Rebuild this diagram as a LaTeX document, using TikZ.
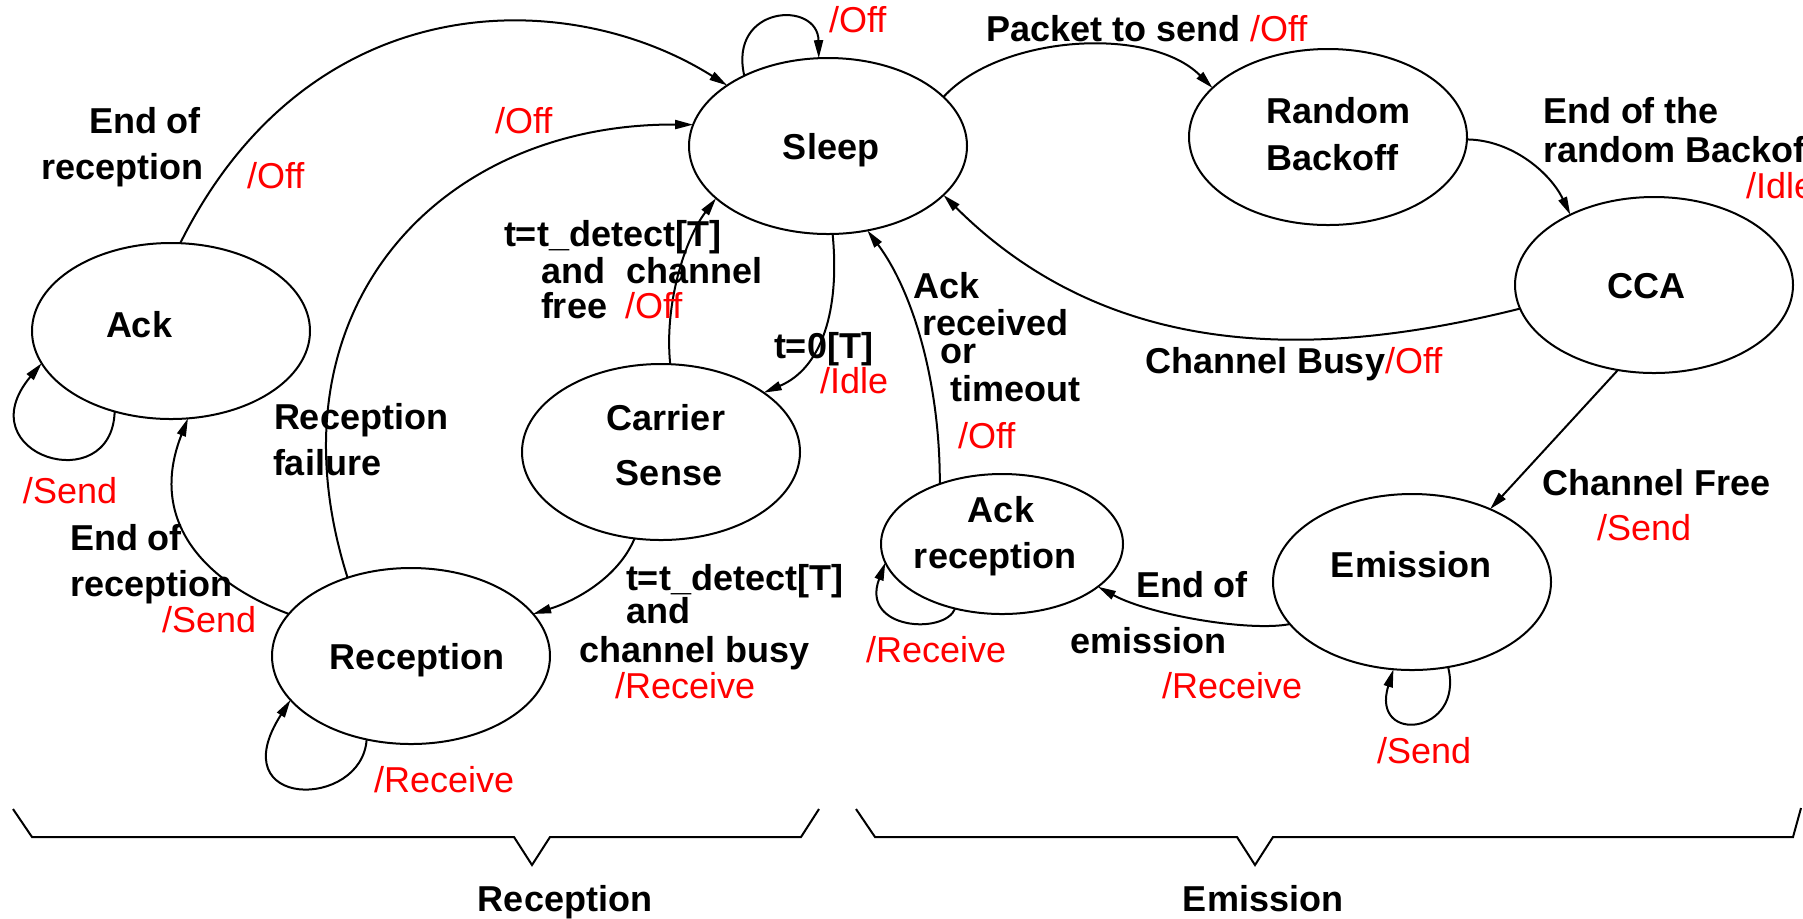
\documentclass[tikz,border=0pt]{standalone}
\usepackage{fontspec}
\setmainfont{Liberation Sans}
\usetikzlibrary{shapes.geometric,arrows.meta}
\begin{document}
\begin{tikzpicture}[x=0.5pt,y=-0.5pt,
  every node/.style={inner sep=0pt, outer sep=0pt},
  state/.style={draw, ellipse, line width=1pt, minimum width=139pt, minimum height=88pt},
  smallstate/.style={state, minimum width=121pt, minimum height=70pt},
  lb/.style={anchor=base west, font=\fontsize{18}{22}\selectfont\bfseries},
  ac/.style={anchor=base west, text=red, font=\fontsize{18}{22}\selectfont},
  ctr/.style={anchor=base, font=\fontsize{18}{22}\selectfont\bfseries},
  edge/.style={draw, line width=1pt, -{Triangle[length=9pt,width=4.5pt]}},
  brace/.style={draw, line width=1pt, line join=miter}
]
\useasboundingbox (0,0) rectangle (1803,918);
\newcommand{\rd}[1]{{\mdseries\color{red}#1}}

% states
\node[state] (sleep) at (828,146) {};
\node[state] (ack) at (171,331) {};
\node[state] (carrier) at (661,452) {};
\node[state] (reception) at (411,656) {};
\node[state] (random) at (1328,137) {};
\node[state] (cca) at (1654,285) {};
\node[smallstate] (ackrec) at (1002,544) {};
\node[state] (emission) at (1412,582) {};

% state texts
\node[ctr] (sleepT) at (831,159) {Sleep};
\node[lb] (ackT) at (106,337) {Ack};
\node[ctr] (carrierT1) at (666,430) {Carrier};
\node[ctr] (carrierT2) at (669,485) {Sense};
\node[ctr] (receptionT) at (417,669) {Reception};
\node[lb] (randomT1) at (1266,123) {Random};
\node[lb] (randomT2) at (1266,170) {Backoff};
\node[ctr] (ccaT) at (1646,298) {CCA};
\node[ctr] (ackrecT1) at (1001,522) {Ack};
\node[ctr] (ackrecT2) at (995,568) {reception};
\node[ctr] (emissionT) at (1411,577) {Emission};

% transitions
\draw[edge] (ack.84) .. controls (310,-17) and (568,-15) .. (sleep.149);
\draw[edge] (reception.129) .. controls (263,311) and (438,123) .. (sleep.171);
\draw[edge] (carrier.84) .. controls (664,304) and (685,239) .. (sleep.205);
\draw[edge] (sleep.273) .. controls (840,310) and (822,368) .. (carrier.30);
\draw[edge] (carrier.253) .. controls (618,578) and (575,601) .. (reception.19);
\draw[edge] (reception.161) .. controls (206,583) and (147,522) .. (ack.281);
\draw[edge] (ack.235) .. controls (112,500) and (-35,455) .. (ack.194);
\draw[edge] (reception.242) .. controls (362,810) and (220,810) .. (reception.200);
\draw[edge] (sleep.140) .. controls (728,5) and (818,0) .. (sleep.96);
\draw[edge] (sleep.23) .. controls (1000,35) and (1150,25) .. (random.157);
\draw[edge] (random.359) .. controls (1513,140) and (1551,174) .. (cca.140);
\draw[edge] (cca.190) .. controls (1338,354) and (1120,371) .. (sleep.337);
\draw[edge] (cca.247) -- (emission.43);
\draw[edge] (emission.199) .. controls (1250,632) and (1150,615) .. (ackrec.336);
\draw[edge] (ackrec.136) .. controls (940,380) and (912,290) .. (sleep.295);
\draw[edge] (ackrec.234) .. controls (945,635) and (860,630) .. (ackrec.189);
\draw[edge] (emission.293) .. controls (1465,735) and (1370,745) .. (emission.258);

% transition labels
\node[lb] (l1a) at (89,133) {End of};
\node[lb] (l1b) at (41,179) {reception};
\node[ac] (l1c) at (247,188) {/Off};
\node[ac] (l2) at (495,133) {/Off};
\node[ac] (l3) at (829,32) {/Off};
\node[lb] (l4a) at (504,246) {t=t\_detect[T]};
\node[lb] (l4b) at (541,283) {and\hspace{10.5pt}channel};
\node[lb] (l4c) at (541,318) {free\hspace{9pt}\rd{/Off}};
\node[lb] (l5a) at (774,358) {t=0[T]};
\node[ac] (l5b) at (820,393) {/Idle};
\node[lb] (l6a) at (274,429) {Reception};
\node[lb] (l6b) at (273,475) {failure};
\node[ac] (l7) at (23,503) {/Send};
\node[lb] (l8a) at (70,550) {End of};
\node[lb] (l8b) at (70,596) {reception};
\node[ac] (l8c) at (162,632) {/Send};
\node[lb] (l9a) at (626,590) {t=t\_detect[T]};
\node[lb] (l9b) at (626,623) {and};
\node[lb] (l9c) at (579,662) {channel busy};
\node[ac] (l9d) at (615,698) {/Receive};
\node[ac] (l10) at (374,792) {/Receive};
\node[lb] (l11) at (986,41) {Packet to send \rd{/Off}};
\node[lb] (l12a) at (1543,123) {End of the};
\node[lb] (l12b) at (1543,162) {random Backoff};
\node[ac] (l12c) at (1746,198) {/Idle};
\node[lb] (l13a) at (913,298) {Ack};
\node[lb] (l13b) at (922,335) {received};
\node[lb] (l13c) at (940,363) {or};
\node[lb] (l13d) at (950,401) {timeout};
\node[ac] (l13e) at (958,448) {/Off};
\node[lb] (l14) at (1145,373) {Channel Busy\rd{/Off}};
\node[lb] (l15a) at (1542,495) {Channel Free};
\node[ac] (l15b) at (1597,540) {/Send};
\node[lb] (l16a) at (1136,597) {End of};
\node[lb] (l16b) at (1070,653) {emission};
\node[ac] (l16c) at (1162,698) {/Receive};
\node[ac] (l17) at (866,662) {/Receive};
\node[ac] (l18) at (1377,763) {/Send};

% braces
\draw[brace] (13,809) -- (32,837) -- (514,837) -- (532,865) -- (550,837) -- (801,837) -- (819,809);
\draw[brace] (856,809) -- (875,837) -- (1237,837) -- (1255,865) -- (1273,837) -- (1793,837) -- (1801,808);
\node[ctr] (grpR) at (565,911) {Reception};
\node[ctr] (grpE) at (1263,911) {Emission};
\end{tikzpicture}
\end{document}
